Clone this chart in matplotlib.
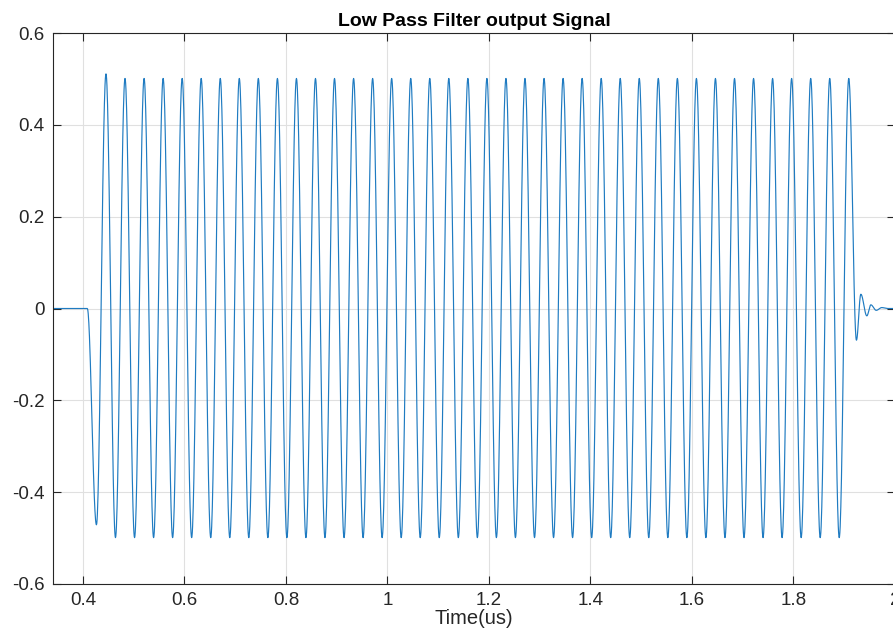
import numpy as np
import matplotlib.pyplot as plt

# ----- Burst extrema (time in us, amplitude) -----
# idle level before the burst and the point where the output starts to move
t_start = 0.4085
# each trough comes just before the peak of the same index
trough_t = [0.4265, 0.4640, 0.5016, 0.5391, 0.5766, 0.6141, 0.6517, 0.6892,
            0.7267, 0.7643, 0.8018, 0.8393, 0.8768, 0.9144, 0.9519, 0.9894,
            1.0270, 1.0645, 1.1020, 1.1396, 1.1771, 1.2146, 1.2521, 1.2897,
            1.3272, 1.3647, 1.4023, 1.4398, 1.4773, 1.5148, 1.5524, 1.5899,
            1.6274, 1.6650, 1.7025, 1.7400, 1.7775, 1.8151, 1.8526, 1.8901]
trough_v = [-0.471] + [-0.499] * 39
peak_t = [0.4453, 0.4828, 0.5204, 0.5579, 0.5954, 0.6329, 0.6705, 0.7080,
          0.7455, 0.7831, 0.8206, 0.8581, 0.8956, 0.9332, 0.9707, 1.0082,
          1.0458, 1.0833, 1.1208, 1.1584, 1.1959, 1.2334, 1.2709, 1.3085,
          1.3460, 1.3835, 1.4211, 1.4586, 1.4961, 1.5336, 1.5712, 1.6087,
          1.6462, 1.6838, 1.7213, 1.7588, 1.7963, 1.8339, 1.8714, 1.9089]
peak_v = [0.511] + [0.501] * 39
# ringing once the tone is switched off
tail_t = [1.9240, 1.9327, 1.9445, 1.9524, 1.9630, 1.9740, 1.9850]
tail_v = [-0.069, 0.031, -0.016, 0.008, -0.004, 0.002, 0.0]
t_end = 2.0

# ----- Build the trace -----
ext_t = [0.34, t_start]
ext_v = [0.0, 0.0]
for tt, tv, pt, pv in zip(trough_t, trough_v, peak_t, peak_v):
    ext_t += [tt, pt]
    ext_v += [tv, pv]
ext_t += tail_t + [t_end]
ext_v += tail_v + [0.0]

t, y = [], []
for i in range(len(ext_t) - 1):
    s = np.linspace(0, 1, 30, endpoint=False)
    t.append(ext_t[i] + (ext_t[i + 1] - ext_t[i]) * s)
    y.append(ext_v[i] + (ext_v[i + 1] - ext_v[i]) * (1 - np.cos(np.pi * s)) / 2)
t = np.concatenate(t + [[t_end]])
y = np.concatenate(y + [[0.0]])

# ----- Figure -----
plt.rcParams['font.family'] = ['Liberation Sans', 'DejaVu Sans']
fig = plt.figure(figsize=(8.93, 6.32), dpi=100)
ax = fig.add_axes([53 / 893, 48 / 632, 842 / 893, 551 / 632])

ax.plot(t, y, color='#1f7bc1', lw=0.85)

ax.set_xlim(0.3409, 2.0)
ax.set_ylim(-0.6, 0.6)
ax.set_xticks(np.arange(0.4, 2.01, 0.2))
ax.set_xticklabels(['0.4', '0.6', '0.8', '1', '1.2', '1.4', '1.6', '1.8', '2'])
ax.set_yticks(np.arange(-0.6, 0.61, 0.2))
ax.set_yticklabels(['-0.6', '-0.4', '-0.2', '0', '0.2', '0.4', '0.6'])

ax.grid(True, color='#e0e0e0', lw=0.8)
ax.set_axisbelow(True)
ax.tick_params(direction='in', length=6, width=0.8, colors='#262626',
               labelsize=13.5, top=True, right=True, pad=6)
for sp in ax.spines.values():
    sp.set_color('#262626')
    sp.set_linewidth(0.8)

ax.set_title('Low Pass Filter output Signal', fontsize=14,
             fontweight='bold', pad=5)
ax.set_xlabel('Time(us)', fontsize=14.5, color='#262626', labelpad=0)

fig.savefig('out.png', dpi=100)
